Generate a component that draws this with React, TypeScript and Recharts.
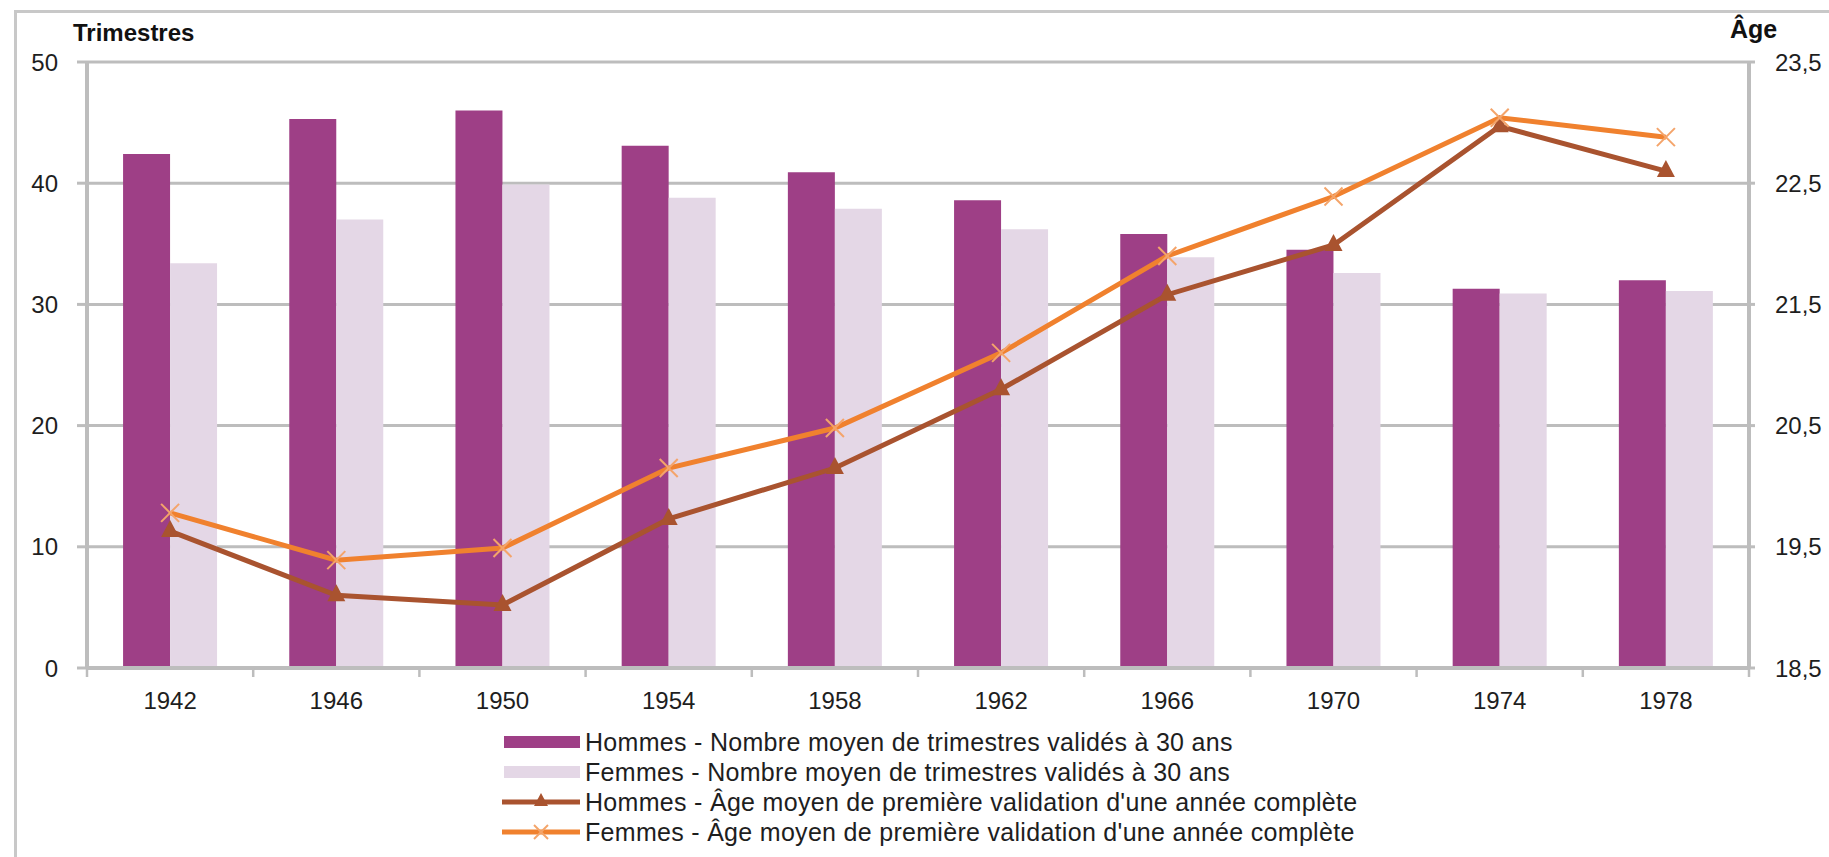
import React from 'react';
import { ComposedChart, Bar, Line, XAxis, YAxis, CartesianGrid } from 'recharts';

// cohortes (année de naissance)
const years = ['1942', '1946', '1950', '1954', '1958', '1962', '1966', '1970', '1974', '1978'];
// nombre moyen de trimestres validés à 30 ans
const hommesTrimestres = [42.4, 45.3, 46.0, 43.1, 40.9, 38.6, 35.8, 34.5, 31.3, 32.0];
const femmesTrimestres = [33.4, 37.0, 39.9, 38.8, 37.9, 36.2, 33.9, 32.6, 30.9, 31.1];
// âge moyen de première validation d'une année complète
const hommesAge = [19.63, 19.1, 19.02, 19.73, 20.15, 20.8, 21.58, 21.99, 22.97, 22.6];
const femmesAge = [19.78, 19.39, 19.49, 20.15, 20.48, 21.1, 21.9, 22.39, 23.04, 22.88];

const leftTicks = [0, 10, 20, 30, 40, 50];
const rightTicks = [18.5, 19.5, 20.5, 21.5, 22.5, 23.5];

const seriesNames = [
  'Hommes - Nombre moyen de trimestres validés à 30 ans',
  'Femmes - Nombre moyen de trimestres validés à 30 ans',
  "Hommes - Âge moyen de première validation d'une année complète",
  "Femmes - Âge moyen de première validation d'une année complète",
];

const data = years.map((y, i) => ({
  year: y,
  hT: hommesTrimestres[i],
  fT: femmesTrimestres[i],
  hA: hommesAge[i],
  fA: femmesAge[i],
}));

const PURPLE = '#9e3f86';
const LILAC = '#e4d7e6';
const BROWN = '#a9532f';
const ORANGE = '#f0812e';
const CROSS = '#f4a46a';
const GRID = '#bdbdbd';
const FONT = '"Liberation Sans", Arial, sans-serif';
const TEXT = '#1e1e1e';

const X_TICK_SIZE = 8;
const X_TICK_MARGIN = 16;

const Triangle = (props: any) => {
  const { cx, cy, index } = props;
  if (cx == null || cy == null) return <g key={`tri-${index}`} />;
  return (
    <path
      key={`tri-${index}`}
      d={`M${cx},${cy - 11} L${cx - 9},${cy + 6} L${cx + 9},${cy + 6} Z`}
      fill={BROWN}
    />
  );
};

const Cross = (props: any) => {
  const { cx, cy, index } = props;
  if (cx == null || cy == null) return <g key={`x-${index}`} />;
  return (
    <g key={`x-${index}`}>
      <line x1={cx - 9} y1={cy - 9} x2={cx + 9} y2={cy + 9} stroke={CROSS} strokeWidth={2} />
      <line x1={cx - 9} y1={cy + 9} x2={cx + 9} y2={cy - 9} stroke={CROSS} strokeWidth={2} />
    </g>
  );
};

// libellé d'année + petite graduation entre les catégories (style Excel)
const YearTick = (props: any) => {
  const { x, y, payload, index, visibleTicksCount } = props;
  const half = payload && payload.offset ? payload.offset : 0;
  const axisY = y - X_TICK_SIZE - X_TICK_MARGIN;
  return (
    <g>
      {half > 0 && (
        <line x1={x - half} y1={axisY} x2={x - half} y2={axisY + 9} stroke={GRID} strokeWidth={2.5} />
      )}
      {half > 0 && index === visibleTicksCount - 1 && (
        <line x1={x + half} y1={axisY} x2={x + half} y2={axisY + 9} stroke={GRID} strokeWidth={2.5} />
      )}
      <text x={x} y={y} dy="0.71em" textAnchor="middle" fontSize={24} fill={TEXT} fontFamily={FONT}>
        {payload.value}
      </text>
    </g>
  );
};

const tickStyle = { fontSize: 24, fill: TEXT, fontFamily: FONT };

const LegendBox = () => (
  <div style={{ position: 'absolute', left: 500, top: 727, fontFamily: FONT }}>
    {seriesNames.map((name, i) => (
      <div key={name} style={{ display: 'flex', alignItems: 'center', height: 30 }}>
        <svg width={82} height={30} style={{ display: 'block' }}>
          {i === 0 && <rect x={4} y={9} width={76} height={12} fill={PURPLE} />}
          {i === 1 && <rect x={4} y={9} width={76} height={12} fill={LILAC} />}
          {i === 2 && (
            <g>
              <line x1={2} y1={15} x2={80} y2={15} stroke={BROWN} strokeWidth={5} />
              <path d="M41,6 L34,19 L48,19 Z" fill={BROWN} />
            </g>
          )}
          {i === 3 && (
            <g>
              <line x1={2} y1={15} x2={80} y2={15} stroke={ORANGE} strokeWidth={5} />
              <line x1={34} y1={8} x2={48} y2={22} stroke={CROSS} strokeWidth={2} />
              <line x1={34} y1={22} x2={48} y2={8} stroke={CROSS} strokeWidth={2} />
            </g>
          )}
        </svg>
        <span style={{ fontSize: 25, letterSpacing: 0.3, color: TEXT, marginLeft: 3, whiteSpace: 'nowrap' }}>
          {name}
        </span>
      </div>
    ))}
  </div>
);

export default function App() {
  return (
    <div style={{ position: 'absolute', left: 0, top: 0, width: 1829, height: 857, background: '#fff', overflow: 'hidden' }}>
      {/* cadre extérieur */}
      <div style={{ position: 'absolute', left: 14, top: 10, width: 1829, height: 900, borderLeft: '3px solid #c8c8c8', borderTop: '3px solid #c8c8c8' }} />
      <ComposedChart
        width={1829}
        height={857}
        data={data}
        margin={{ top: 62, right: 0, left: 0, bottom: 149 }}
        barCategoryGap="21.7%"
        barGap={0}
        style={{ position: 'absolute', left: 0, top: 0 }}
      >
        <CartesianGrid horizontal vertical={false} stroke={GRID} strokeWidth={3} yAxisId="left" />
        <XAxis
          dataKey="year"
          height={40}
          tickLine={false}
          tickSize={X_TICK_SIZE}
          tickMargin={X_TICK_MARGIN}
          axisLine={{ stroke: GRID, strokeWidth: 4 }}
          tick={YearTick}
          interval={0}
        />
        <YAxis
          yAxisId="left"
          domain={[0, 50]}
          ticks={leftTicks}
          width={87}
          tickSize={10}
          tickMargin={19}
          axisLine={{ stroke: GRID, strokeWidth: 4 }}
          tickLine={{ stroke: GRID, strokeWidth: 3 }}
          tick={tickStyle}
        />
        <YAxis
          yAxisId="right"
          orientation="right"
          domain={[18.5, 23.5]}
          ticks={rightTicks}
          width={80}
          tickSize={6}
          tickMargin={20}
          axisLine={{ stroke: GRID, strokeWidth: 4 }}
          tickLine={{ stroke: GRID, strokeWidth: 3 }}
          tick={tickStyle}
          tickFormatter={(v: number) => v.toFixed(1).replace('.', ',')}
        />
        <Bar yAxisId="left" dataKey="hT" name={seriesNames[0]} fill={PURPLE} isAnimationActive={false} />
        <Bar yAxisId="left" dataKey="fT" name={seriesNames[1]} fill={LILAC} isAnimationActive={false} />
        <Line
          yAxisId="right"
          dataKey="hA"
          name={seriesNames[2]}
          stroke={BROWN}
          strokeWidth={5}
          dot={Triangle}
          activeDot={false}
          type="linear"
          isAnimationActive={false}
        />
        <Line
          yAxisId="right"
          dataKey="fA"
          name={seriesNames[3]}
          stroke={ORANGE}
          strokeWidth={5}
          dot={Cross}
          activeDot={false}
          type="linear"
          isAnimationActive={false}
        />
      </ComposedChart>
      <div style={{ position: 'absolute', left: 73, top: 19, fontFamily: FONT, fontWeight: 'bold', fontSize: 24, color: '#111' }}>
        Trimestres
      </div>
      <div style={{ position: 'absolute', left: 1730, top: 15, fontFamily: FONT, fontWeight: 'bold', fontSize: 25, color: '#111' }}>
        Âge
      </div>
      <LegendBox />
    </div>
  );
}
